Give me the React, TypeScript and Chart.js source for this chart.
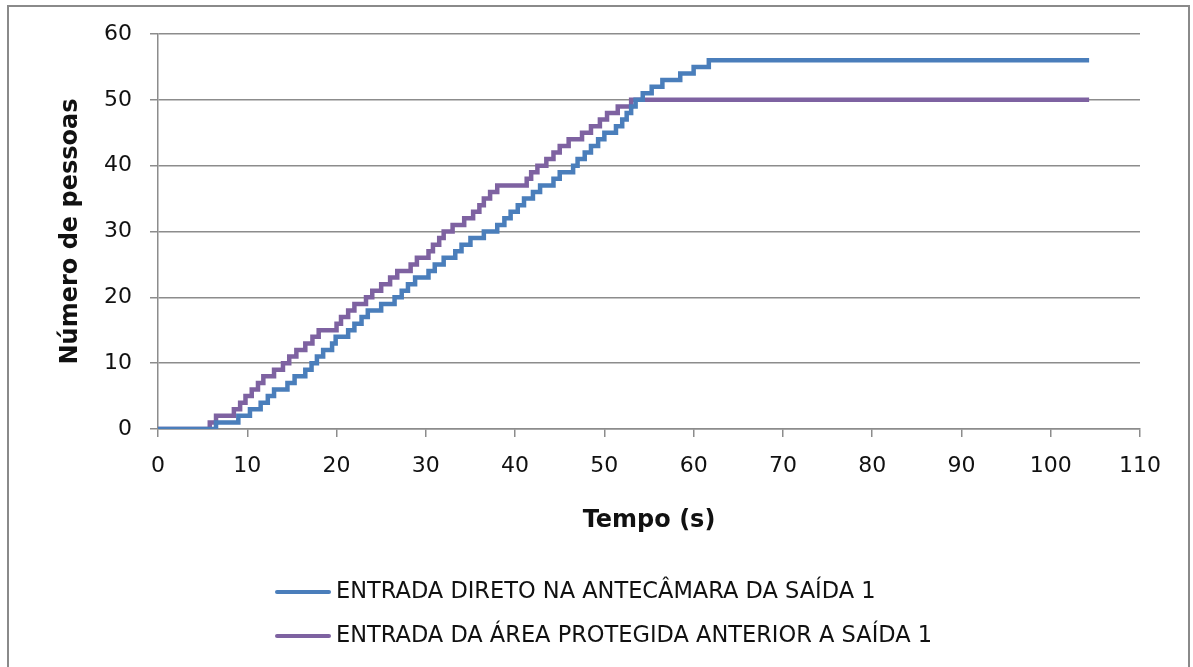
import React, { useEffect, useRef } from "react";
import { Chart, registerables } from "chart.js";

Chart.register(...registerables);

const seriesLabels = [
  "ENTRADA DIRETO NA ANTECÂMARA DA SAÍDA 1",
  "ENTRADA DA ÁREA PROTEGIDA ANTERIOR A SAÍDA 1",
];

const blueTimes = [
  0, 6.5, 9.0, 10.3, 11.5, 12.3, 13.0, 14.5, 15.3, 16.5, 17.2, 17.8, 18.5, 19.5, 19.9,
  21.3, 22.0, 22.8, 23.5, 25.0, 26.5, 27.3, 28.0, 28.8, 30.3, 31.0, 32.0, 33.3, 34.0,
  35.0, 36.5, 38.0, 38.8, 39.5, 40.3, 41.0, 42.0, 42.8, 44.3, 45.0, 46.5, 47.0, 47.8,
  48.5, 49.3, 50.0, 51.3, 52.0, 52.5, 53.0, 53.5, 54.3, 55.3, 56.5, 58.5, 60.0, 61.7,
  104.3,
];
const blueCounts = [
  0, 1, 2, 3, 4, 5, 6, 7, 8, 9, 10, 11, 12, 13, 14, 15, 16, 17, 18, 19, 20, 21, 22, 23,
  24, 25, 26, 27, 28, 29, 30, 31, 32, 33, 34, 35, 36, 37, 38, 39, 40, 41, 42, 43, 44, 45,
  46, 47, 48, 49, 50, 51, 52, 53, 54, 55, 56, 56,
];

const purpleTimes = [
  0, 5.8, 6.5, 8.5, 9.2, 9.8, 10.5, 11.2, 11.8, 13.0, 14.0, 14.7, 15.5, 16.5, 17.3, 18.0,
  20.0, 20.5, 21.3, 22.0, 23.3, 24.0, 25.0, 26.0, 26.8, 28.3, 29.0, 30.3, 30.8, 31.5,
  32.0, 33.0, 34.3, 35.3, 36.0, 36.5, 37.2, 38.0, 41.3, 41.8, 42.5, 43.5, 44.3, 45.0,
  46.0, 47.5, 48.5, 49.5, 50.3, 51.5, 53.0, 104.3,
];
const purpleCounts = [
  0, 1, 2, 3, 4, 5, 6, 7, 8, 9, 10, 11, 12, 13, 14, 15, 16, 17, 18, 19, 20, 21, 22, 23,
  24, 25, 26, 27, 28, 29, 30, 31, 32, 33, 34, 35, 36, 37, 38, 39, 40, 41, 42, 43, 44, 45,
  46, 47, 48, 49, 50, 50,
];

const seriesColors = ["#4a7ebb", "#7e62a1"];
const xTitle = "Tempo (s)";
const yTitle = "Número de pessoas";
const FONT = "'DejaVu Sans', sans-serif";

const legendPlugin = {
  id: "customLegend",
  afterDraw(chart: any) {
    const ctx = chart.ctx;
    const ys = [592, 636];
    ctx.save();
    chart.data.datasets.forEach((ds: any, i: number) => {
      const y = ys[i];
      ctx.strokeStyle = ds.borderColor;
      ctx.lineWidth = 4;
      ctx.lineCap = "round";
      ctx.beginPath();
      ctx.moveTo(277, y);
      ctx.lineTo(329, y);
      ctx.stroke();
      ctx.fillStyle = "#111";
      ctx.font = `22.5px ${FONT}`;
      ctx.textBaseline = "middle";
      ctx.textAlign = "left";
      ctx.fillText(ds.label, 336, y);
    });
    ctx.restore();
  },
};

export default function App() {
  const ref = useRef<HTMLCanvasElement>(null);
  useEffect(() => {
    const toPts = (ts: number[], cs: number[]) => ts.map((t, i) => ({ x: t, y: cs[i] }));
    const chart = new Chart(ref.current as HTMLCanvasElement, {
      type: "line",
      data: {
        datasets: [
          {
            label: seriesLabels[0],
            data: toPts(blueTimes, blueCounts),
            borderColor: seriesColors[0],
            borderWidth: 4.5,
            pointRadius: 0,
            stepped: "before",
          },
          {
            label: seriesLabels[1],
            data: toPts(purpleTimes, purpleCounts),
            borderColor: seriesColors[1],
            borderWidth: 4.5,
            pointRadius: 0,
            stepped: "before",
          },
        ],
      },
      options: {
        animation: false,
        responsive: false,
        layout: { padding: { top: 34, right: 53, left: 0, bottom: 0 } },
        plugins: { legend: { display: false }, tooltip: { enabled: false } },
        scales: {
          x: {
            type: "linear",
            min: 0,
            max: 110,
            ticks: { stepSize: 10, color: "#111", font: { family: FONT, size: 22 }, padding: 16, maxRotation: 0 },
            grid: { drawOnChartArea: false, drawTicks: true, tickLength: 8, color: "#8c8c8c", lineWidth: 1.5 },
            border: { color: "#8c8c8c", width: 1.5 },
            title: {
              display: true,
              text: xTitle,
              color: "#111",
              font: { family: FONT, size: 24, weight: "bold" },
              padding: { top: 0, bottom: 132 },
            },
            afterFit: (s: any) => {
              s.height = 238;
            },
          },
          y: {
            min: 0,
            max: 60,
            ticks: { stepSize: 10, color: "#111", font: { family: FONT, size: 22 }, padding: 18 },
            grid: { color: "#8c8c8c", tickLength: 8, lineWidth: 1.5 },
            border: { color: "#8c8c8c", width: 1.5 },
            title: {
              display: true,
              text: yTitle,
              color: "#111",
              font: { family: FONT, size: 24, weight: "bold" },
              padding: { top: 56, bottom: 0 },
            },
            afterFit: (s: any) => {
              s.width = 158;
            },
          },
        },
      } as any,
      plugins: [legendPlugin],
    });
    return () => chart.destroy();
  }, []);
  return (
    <div style={{ position: "fixed", left: 0, top: 0, width: 1193, height: 667, background: "#fff", overflow: "hidden" }}>
      <div
        style={{
          position: "absolute",
          left: 7,
          top: 5,
          width: 1183,
          height: 700,
          border: "2px solid #8a8a8a",
          boxSizing: "border-box",
        }}
      />
      <canvas ref={ref} width={1193} height={667} style={{ position: "absolute", left: 0, top: 0 }} />
    </div>
  );
}
